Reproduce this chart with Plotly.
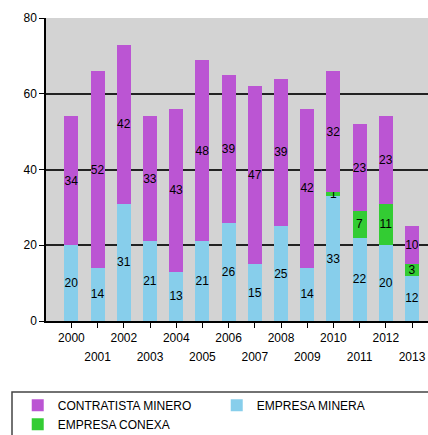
import plotly.graph_objects as go

years = list(range(2000, 2014))
empresa_minera = [20, 14, 31, 21, 13, 21, 26, 15, 25, 14, 33, 22, 20, 12]
empresa_conexa = [0, 0, 0, 0, 0, 0, 0, 0, 0, 0, 1, 7, 11, 3]
contratista_minero = [34, 52, 42, 33, 43, 48, 39, 47, 39, 42, 32, 23, 23, 10]

even_labels = [str(y) if y % 2 == 0 else "" for y in years]
odd_labels = [str(y) if y % 2 == 1 else "" for y in years]

FONT = "Liberation Sans, Arial, sans-serif"


def labels(values):
    return [str(v) if v else "" for v in values]


fig = go.Figure()

series = [
    ("EMPRESA MINERA", empresa_minera, "#87CEEB", 2),
    ("EMPRESA CONEXA", empresa_conexa, "#33CC33", 3),
    ("CONTRATISTA MINERO", contratista_minero, "#BB55D3", 1),
]
for name, vals, color, rank in series:
    fig.add_trace(
        go.Bar(
            x=years,
            y=vals,
            name=name,
            width=0.53,
            marker={"color": color, "line": {"width": 0}},
            text=labels(vals),
            textposition="inside",
            insidetextanchor="middle",
            textangle=0,
            constraintext="none",
            textfont={"family": FONT, "size": 12, "color": "black"},
            legendrank=rank,
            hoverinfo="skip",
        )
    )

xr = [2000 - 0.97, 2013 + 0.61]
fig.update_layout(
    width=428,
    height=435,
    barmode="stack",
    plot_bgcolor="#D3D3D3",
    paper_bgcolor="white",
    margin={"l": 46, "r": 0, "t": 18, "b": 114, "autoexpand": False},
    font={"family": FONT, "size": 12, "color": "black"},
    showlegend=True,
    legend={
        "orientation": "h",
        "x": -0.074,
        "xanchor": "left",
        "y": -0.23,
        "yanchor": "top",
        "entrywidth": 154,
        "traceorder": "normal",
        "font": {"family": FONT, "size": 12, "color": "black"},
        "bgcolor": "rgba(0,0,0,0)",
        "tracegroupgap": 0,
    },
    xaxis={
        "range": xr,
        "automargin": False,
        "tickvals": years,
        "ticktext": even_labels,
        "ticks": "outside",
        "ticklen": 5,
        "tickcolor": "black",
        "showline": True,
        "linecolor": "black",
        "linewidth": 1.5,
        "showgrid": False,
        "zeroline": False,
        "tickfont": {"family": FONT, "size": 12, "color": "black"},
    },
    xaxis2={
        "range": xr,
        "automargin": False,
        "overlaying": "x",
        "anchor": "y",
        "side": "bottom",
        "tickvals": years,
        "ticktext": odd_labels,
        "ticks": "",
        "showline": False,
        "showgrid": False,
        "zeroline": False,
        "ticklabelstandoff": 27,
        "tickfont": {"family": FONT, "size": 12, "color": "black"},
    },
    yaxis={
        "range": [0, 80],
        "automargin": False,
        "tickvals": [0, 20, 40, 60, 80],
        "ticks": "outside",
        "ticklen": 5,
        "tickcolor": "black",
        "showline": True,
        "linecolor": "black",
        "linewidth": 1.5,
        "showgrid": True,
        "gridcolor": "#222222",
        "gridwidth": 1.5,
        "zeroline": False,
        "tickfont": {"family": FONT, "size": 12, "color": "black"},
    },
    shapes=[
        {
            "type": "rect",
            "xref": "paper",
            "yref": "paper",
            "x0": -0.089,
            "x1": 1.05,
            "y0": -0.234,
            "y1": -0.45,
            "line": {"color": "#444444", "width": 1.5},
            "layer": "above",
        }
    ],
)

# invisible trace so the second (odd-year) axis is drawn
fig.add_trace(
    go.Scatter(x=[years[0]], y=[0], xaxis="x2", mode="markers",
               marker={"opacity": 0}, showlegend=False, hoverinfo="skip")
)

# drop the default 8px body margin so the figure fills the window exactly
fig.write_html(
    "out.html",
    config={"displayModeBar": False},
    post_script="document.body.style.margin='0';document.body.style.overflow='hidden';",
)
